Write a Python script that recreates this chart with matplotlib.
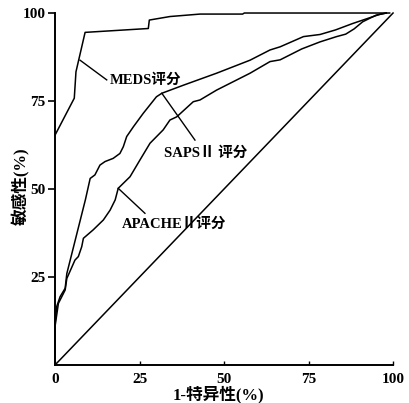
# -*- coding: utf-8 -*-

import matplotlib
matplotlib.use('Agg')
import matplotlib.pyplot as plt

plt.rcParams['font.family'] = ['Liberation Serif', 'Noto Sans CJK SC']

# ROC curves (1 - specificity %, sensitivity %)
meds_x = [0, 5.7, 6.2, 8.9, 27.6, 27.9, 34, 42.9, 55.5, 56, 99]
meds_y = [65.3, 75.8, 83.3, 94.5, 95.6, 98, 99, 99.7, 99.7, 100, 100]

saps_x = [0, 0, 0.5, 1.5, 3, 3.5, 9, 10.4, 11.8, 13.3, 14.8, 17.2, 19.2,
          20.2, 21.2, 23.2, 26.1, 30, 31.6, 38, 47.8, 57.7, 63.6, 66.6,
          73.5, 78.4, 83, 88, 96, 98]
saps_y = [0, 11.5, 16.6, 19.4, 21.8, 26, 47, 53, 54, 56.8, 57.8, 58.7, 60.1,
          62, 64.9, 67.7, 71.5, 76.2, 77.2, 79.5, 82.9, 86.6, 89.5, 90.4,
          93.3, 93.9, 95.2, 97, 99.6, 100]

apache_x = [0, 0, 1, 3, 3.5, 5.9, 6.9, 7.9, 8.4, 11.3, 14.3, 16.3, 17.8,
            18.7, 22.2, 25.1, 28.1, 32, 34, 36, 40.9, 42.9, 47.8, 57.7,
            63.6, 66.6, 73, 78.4, 83.3, 86, 88.5, 91, 95, 98]
apache_y = [0, 10.9, 17.5, 21.3, 24.6, 29.8, 30.8, 33.6, 36, 38.4, 41.2, 44,
            46.9, 50.2, 53.5, 58.2, 63, 66.8, 69.6, 70.5, 74.8, 75.3, 78.1,
            82.9, 86.2, 86.7, 89.8, 91.8, 93.3, 94, 95.5, 97.5, 99.4, 100]

ref_x = [0, 100]
ref_y = [0, 100]

ticks = [0, 25, 50, 75, 100]

fig = plt.figure(figsize=(4.09, 4.03), dpi=100)
ax = fig.add_axes([0.1345, 0.0943, 0.8265, 0.8734])

lw = 1.1
ax.plot(meds_x, meds_y, color='black', lw=lw, clip_on=False)
ax.plot(saps_x, saps_y, color='black', lw=lw, clip_on=False)
ax.plot(apache_x, apache_y, color='black', lw=lw, clip_on=False)
ax.plot(ref_x, ref_y, color='black', lw=lw, clip_on=False)

# labels with leader lines
tfont = dict(fontsize=10.5, fontweight='bold', color='black')
ax.plot([7.4, 15.3], [86.6, 81], color='black', lw=1.0)
ax.text(16.3, 81, 'MEDS评分', va='center', ha='left', **tfont)

ax.plot([31.6, 41.4], [77.2, 63.9], color='black', lw=1.0)
ax.text(32.2, 60.2, 'SAPSⅡ 评分', va='center', ha='left', **tfont)

ax.plot([18.7, 26.6], [50.2, 43.1], color='black', lw=1.0)
ax.text(19.8, 40, 'APACHEⅡ评分', va='center', ha='left', **tfont)

ax.set_xlim(0, 100)
ax.set_ylim(0, 100)
ax.set_xticks(ticks)
ax.set_yticks(ticks[1:])
ax.spines['top'].set_visible(False)
ax.spines['right'].set_visible(False)
ax.spines['left'].set_linewidth(1.4)
ax.spines['bottom'].set_linewidth(1.4)
ax.tick_params(axis='y', direction='out', length=5, width=1.2, pad=2,
               labelsize=11)
ax.tick_params(axis='x', direction='in', length=3, width=1.0, pad=6,
               labelsize=11)
for lab in ax.get_xticklabels() + ax.get_yticklabels():
    lab.set_fontweight('bold')

ax.set_xlabel('1-特异性(%)', fontsize=12, fontweight='bold', va='center')
ax.set_ylabel('敏感性(%)', fontsize=12, fontweight='bold', va='center')
ax.xaxis.set_label_coords(0.484, -0.083)
ax.yaxis.set_label_coords(-0.1, 0.509)

fig.savefig('out.png', dpi=100)
